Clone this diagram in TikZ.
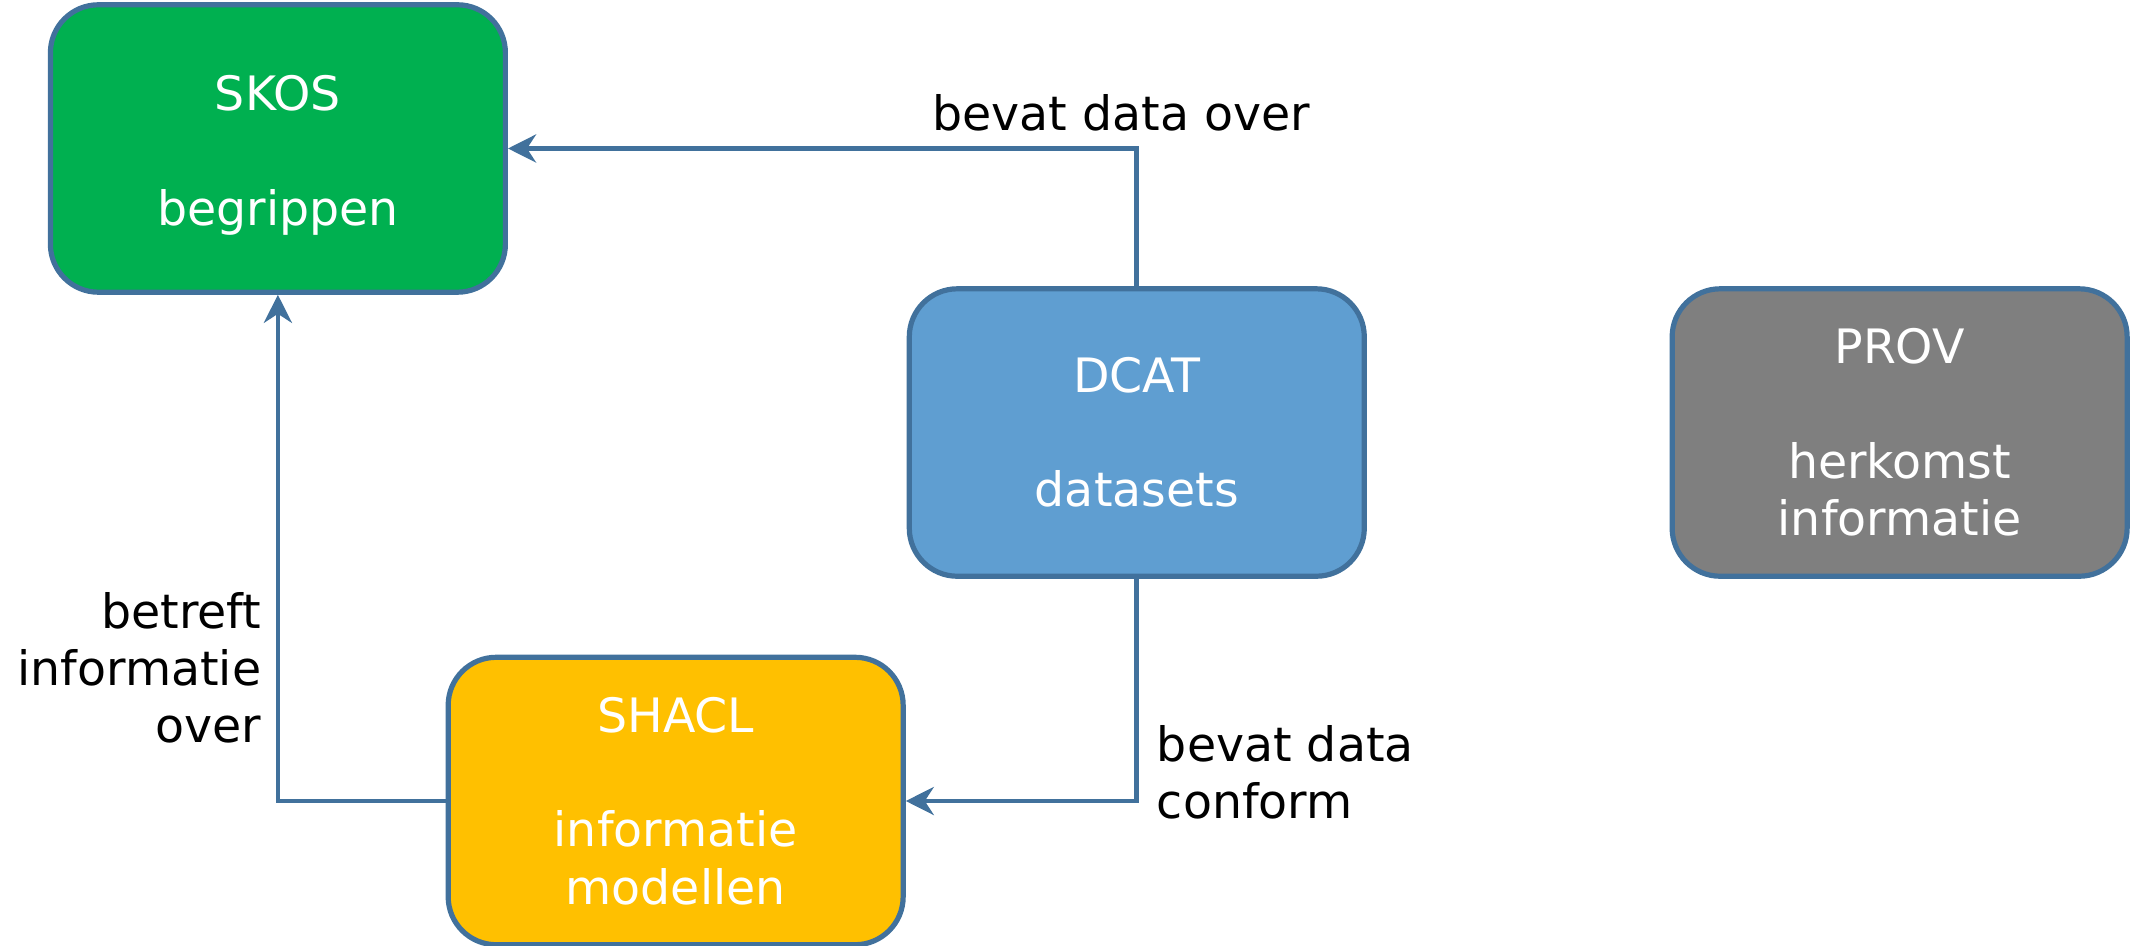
\documentclass[tikz,border=0pt]{standalone}
\usepackage{fontspec}
\setmainfont{DejaVu Sans}
\usetikzlibrary{arrows.meta,positioning}
\definecolor{bordc}{HTML}{41719C}
\definecolor{skosg}{HTML}{00B050}
\definecolor{dcatb}{HTML}{5F9ED1}
\definecolor{provg}{HTML}{7F7F7F}
\definecolor{shaclY}{HTML}{FFC000}
\tikzset{
  box/.style={draw=bordc, line width=2.6pt, rounded corners=24pt, minimum width=334*0.681pt, minimum height=211*0.681pt, text=white, align=center, font=\fontsize{23.7}{28.6}\selectfont, inner sep=0pt},
  boxtext/.style={text=white, align=center, font=\fontsize{23.7}{28.6}\selectfont, inner sep=0pt},
  conn/.style={draw=bordc, line width=2.4pt, -{Stealth[length=14pt,width=14pt,inset=4.5pt]}},
  lbl/.style={text=black, font=\fontsize{23.7}{28.6}\selectfont, inner sep=0pt}
}
\begin{document}
\begin{tikzpicture}[x=0.681pt,y=-0.681pt]
\useasboundingbox (0,0) rectangle (1568,694);
\node[box, fill=skosg] (skos) at (204,109) {};
\node[boxtext] (skost) at ([yshift=-3.4pt]skos.center) {SKOS\\[28.6pt]begrippen};
\node[box, fill=dcatb] (dcat) at (834.5,317.5) {DCAT\\[28.6pt]datasets};
\node[box, fill=provg] (prov) at (1394.5,317.5) {PROV\\[28.6pt]herkomst\\informatie};
\node[box, fill=shaclY] (shacl) at (496,588) {SHACL\\[28.6pt]informatie\\modellen};
\coordinate (c1) at (dcat.north |- skos.east);
\coordinate (c2) at (dcat.south |- shacl.east);
\coordinate (c3) at (skos.south |- shacl.west);
\draw[conn] (dcat.north) -- (c1) -- (skos.east);
\draw[conn] (dcat.south) -- (c2) -- (shacl.east);
\draw[conn] (shacl.west) -- (c3) -- (skos.south);
\node[lbl, anchor=base] (l1) at (823,95.5) {bevat data over};
\node[lbl, anchor=base west, align=left] (l2) at (849,601) {bevat data\\conform};
\node[lbl, anchor=base east, align=right] (l3) at (192,545) {betreft\\informatie\\over};
\end{tikzpicture}
\end{document}
